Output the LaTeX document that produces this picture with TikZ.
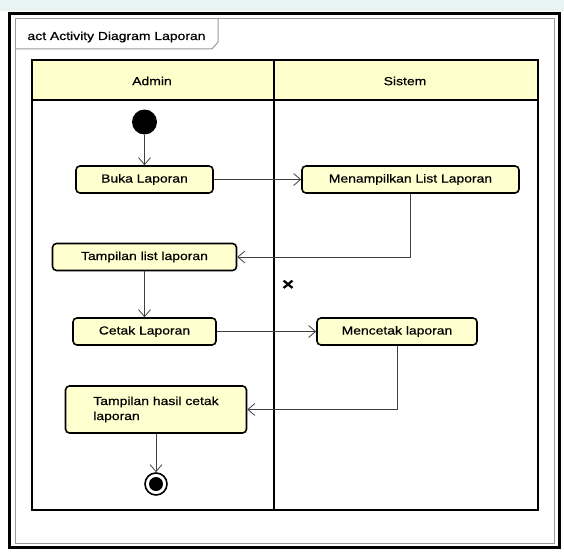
\documentclass[tikz,border=0pt]{standalone}
\usepackage{fontspec}
\setmainfont{Liberation Sans}[FakeStretch=1.2, FakeBold=0.6]
\usetikzlibrary{arrows.meta}

\definecolor{laneyellow}{HTML}{FFFFCC}
\definecolor{actyellow}{HTML}{FFFFD0}
\definecolor{framegray}{HTML}{9A9A9A}
\definecolor{topstrip}{HTML}{E8F3F3}

\begin{document}
\begin{tikzpicture}[x=1pt, y=-1pt, font=\fontsize{11.6}{15}\selectfont,
  activity/.style={draw, line width=1.6pt, rounded corners=4pt, fill=actyellow, minimum height=27pt, inner sep=2pt},
  initnode/.style={circle, fill=black, minimum size=25pt, inner sep=0pt},
  finalnode/.style={circle, draw, line width=1.6pt, minimum size=22pt, inner sep=0pt,
    path picture={\fill (path picture bounding box.center) circle (7pt);}},
  flow/.style={draw=black!75, line width=0.8pt, -{Straight Barb[length=7pt, width=12pt]}},
  lane/.style={line width=1.5pt}
]

% page and frame
\useasboundingbox (0,0) rectangle (564,551);
\fill[white] (0,0) rectangle (564,551);
\fill[topstrip] (0,0) rectangle (564,11);
\draw[line width=3pt] (9.5,13.5) rectangle (559.5,547);
\draw[framegray, line width=1pt] (15,18.5) rectangle (554.5,543);

% title tab
\draw[framegray, line width=1pt] (15,49) -- (212,49) -- (218,42) -- (218,18.5);
\node[anchor=west] (judul) at (24,37) {act Activity Diagram Laporan};

% swimlanes
\fill[laneyellow] (32,60) rectangle (538,100);
\draw[lane] (32,60) rectangle (538,510);
\draw[lane] (32,100) -- (538,100);
\draw[lane] (274,60) -- (274,510);
\node (admin) at (152,81) {Admin};
\node (sistem) at (405,81) {Sistem};

% lane Admin
\node[initnode] (mulai) at (144.5,122) {};
\node[activity, minimum width=137pt] (bukaLaporan) at (144.5,179.5) {Buka Laporan};
\node[activity, minimum width=184pt] (tampilanList) at (144.5,257) {Tampilan list laporan};
\node[activity, minimum width=143pt] (cetakLaporan) at (144.5,331.5) {Cetak Laporan};
\node[activity, minimum width=181pt, minimum height=47pt, align=left] (tampilanHasil) at (156,409.5) {Tampilan hasil cetak\\laporan};
\node[finalnode] (selesai) at (156,484) {};

% lane Sistem
\node[activity, minimum width=217pt] (menampilkanList) at (410.5,179.5) {Menampilkan List Laporan};
\node[activity, minimum width=160pt] (mencetakLaporan) at (397,331.5) {Mencetak laporan};
\node[font=\fontsize{17}{17}\selectfont\bfseries] (silang) at (288,285) {×};

% flows
\draw[flow] (mulai) -- (bukaLaporan);
\draw[flow] (bukaLaporan) -- (menampilkanList);
\draw[flow] (menampilkanList) |- (tampilanList);
\draw[flow] (tampilanList) -- (cetakLaporan);
\draw[flow] (cetakLaporan) -- (mencetakLaporan);
\draw[flow] (mencetakLaporan) |- (tampilanHasil);
\draw[flow] (tampilanHasil) -- (selesai);

\end{tikzpicture}
\end{document}
